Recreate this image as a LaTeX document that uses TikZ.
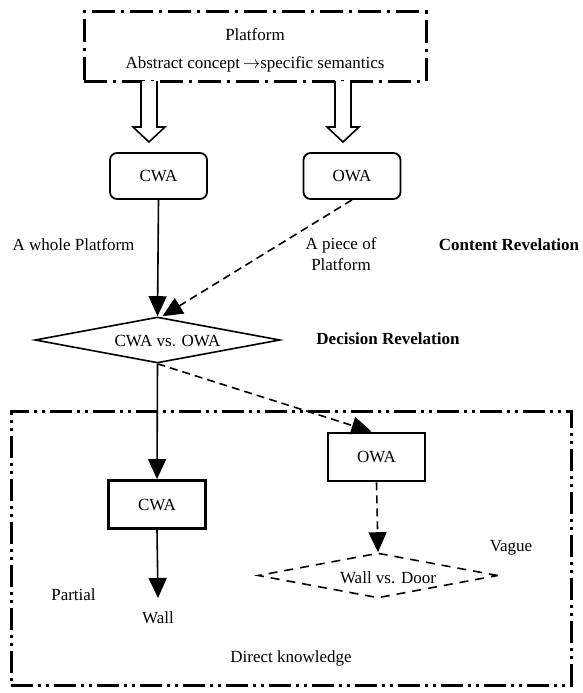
\documentclass[tikz,border=0pt]{standalone}
\usepackage{fontspec}
\setmainfont{Liberation Serif}
\usetikzlibrary{arrows.meta,shapes.geometric,calc}

\begin{document}
\begin{tikzpicture}[x=1pt,y=-1pt,
  txt/.style={inner sep=0pt, align=center, font=\fontsize{17}{21}\selectfont},
  bold/.style={txt, font=\fontsize{17}{21}\selectfont\bfseries},
  rbox/.style={draw, line width=1.8pt, rounded corners=7pt, minimum width=97pt,
    minimum height=46pt, inner sep=0pt, font=\fontsize{17}{21}\selectfont},
  sbox/.style={draw, line width=2.8pt, minimum width=97pt, minimum height=48pt,
    inner sep=0pt, font=\fontsize{17}{21}\selectfont},
  frameA/.style={draw, line width=3pt, dash pattern=on 23pt off 6pt on 3pt off 6pt},
  frameB/.style={draw, line width=3pt,
    dash pattern=on 22pt off 5pt on 3pt off 5pt on 3pt off 5pt},
  link/.style={line width=1.6pt, -{Triangle[width=18pt,length=20pt]}},
  dlink/.style={link, dash pattern=on 8pt off 5pt},
  hollow/.style={draw, line width=1.6pt, fill=white, line join=miter},
  choice/.style={diamond, draw, line width=1.6pt, inner sep=0pt},
]
\useasboundingbox (0,0) rectangle (582,693);

% outer frames
\node[frameA, minimum width=342pt, minimum height=69pt, inner sep=0pt,
  label={[txt, font=\fontsize{17}{28}\selectfont, yshift=-4pt]center:
    Platform\\Abstract concept\,$\rightarrow$specific semantics}] (platform) at (255,46.5) {};
\node[frameB, minimum width=560pt, minimum height=274pt] (frame) at (291,548) {};

% first level
\node[rbox] (cwa1) at (158.5,176) {CWA};
\node[rbox] (owa1) at (352,176) {OWA};

% hollow block arrows from the platform
\draw[hollow] (149,81) ++(-8,0) -- ++(0,46) -- ++(-8,0) -- ++(16,15)
  -- ++(16,-15) -- ++(-8,0) -- ++(0,-46);
\draw[hollow] (343,81) ++(-8,0) -- ++(0,46) -- ++(-8,0) -- ++(16,15)
  -- ++(16,-15) -- ++(-8,0) -- ++(0,-46);

% decision
\node[choice, minimum width=245pt, minimum height=46pt,
  label={[txt, xshift=10pt, yshift=-1pt]center:CWA vs. OWA}] (dec) at (157.5,340) {};

% second level
\node[sbox] (cwa2) at (157,504.5) {CWA};
\node[sbox] (owa2) at (376.5,457) {OWA};
\node[choice, dash pattern=on 9pt off 7pt, minimum width=240pt, minimum height=45pt,
  label={[txt, xshift=10pt, yshift=-2pt]center:Wall vs. Door}] (wd) at (378,575.5) {};
\coordinate (walltip) at (158,598);

% connectors
\draw[link] (cwa1.south) -- (dec.north);
\draw[dlink] (owa1.south) -- ($(dec.north)+(5,0)$);
\draw[link] (dec.south) -- (cwa2.north);
\draw[dlink] (dec.south) -- ($(owa2.north)+(-5,0)$);
\draw[dlink] (owa2.south) -- (wd.north);
\draw[link] (cwa2.south) -- (walltip);

% labels
\node[txt] (whole) at (73.5,245) {A whole Platform};
\node[txt] (piece) at (341,254.5) {A piece of\\Platform};
\node[bold] (content) at (509,245) {Content Revelation};
\node[bold] (decision) at (388,339) {Decision Revelation};
\node[txt] (vague) at (511,548) {Vague};
\node[txt] (partial) at (73.5,595) {Partial};
\node[txt] (wall) at (158,618) {Wall};
\node[txt] (direct) at (291,658) {Direct knowledge};
\end{tikzpicture}
\end{document}
